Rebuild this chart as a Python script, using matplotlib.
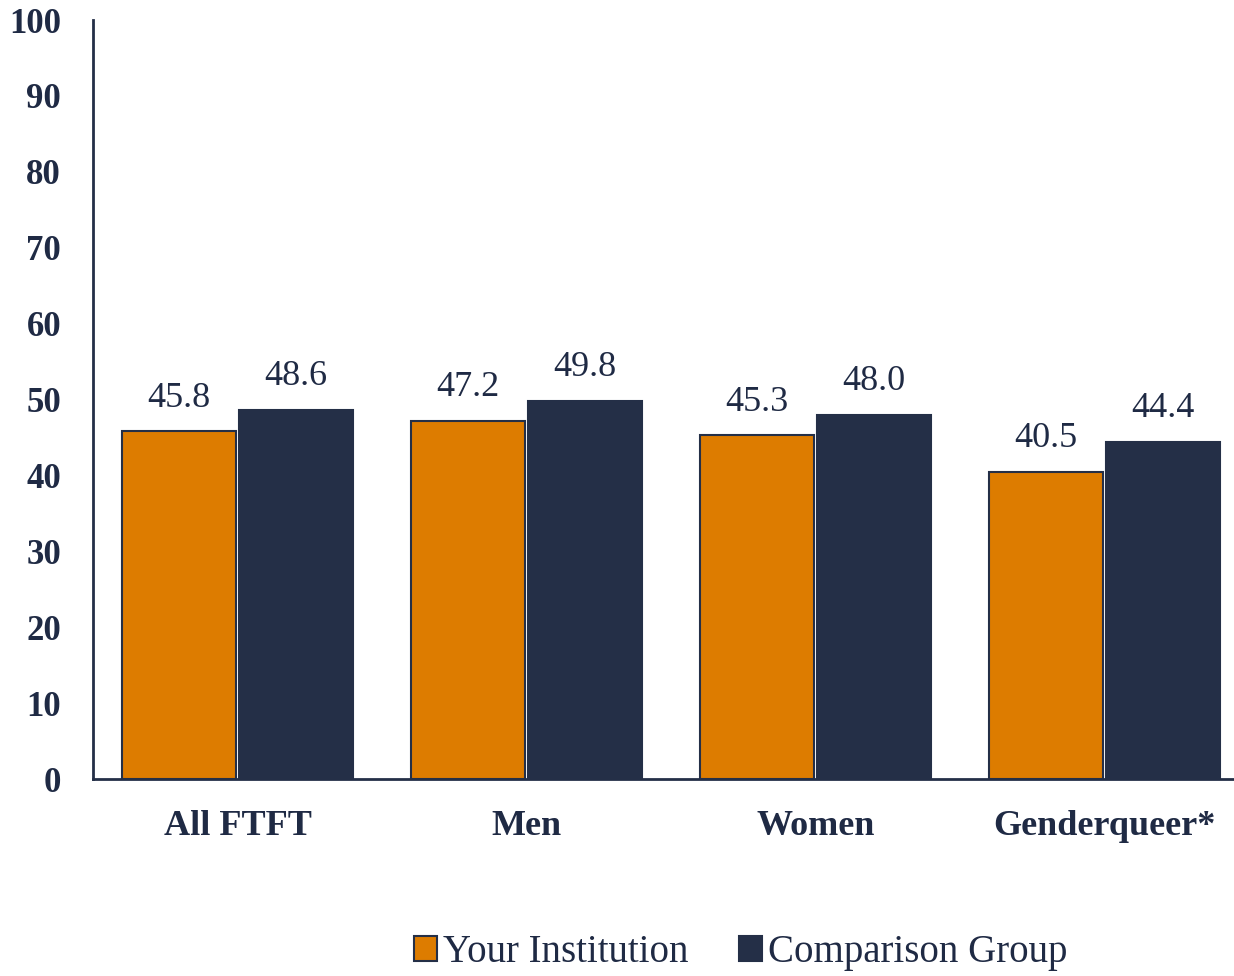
import matplotlib
matplotlib.use('Agg')
import matplotlib.pyplot as plt
import matplotlib.patches as patches
import numpy as np

categories = ['All FTFT', 'Men', 'Women', 'Genderqueer*']
your_inst = [45.8, 47.2, 45.3, 40.5]
comparison = [48.6, 49.8, 48.0, 44.4]
yticks = list(range(0, 101, 10))

orange = '#DD7C00'
navy = '#242F47'
textc = '#1F2A44'

plt.rcParams['font.family'] = ['Liberation Serif', 'DejaVu Serif']

fig = plt.figure(figsize=(12.34, 9.76), dpi=100)
# axes runs a little past the right edge of the figure, like the original
ax = fig.add_axes([0.0754, 0.2018, 0.9368, 0.7777])
ax.spines['bottom'].set_clip_on(False)

x = np.arange(len(categories))
w = 0.393
b1 = ax.bar(x - 0.203, your_inst, w, color=orange, edgecolor=navy, linewidth=1.5)
b2 = ax.bar(x + 0.203, comparison, w, color=navy, edgecolor=navy, linewidth=1.5)

for bars, vals in [(b1, your_inst), (b2, comparison)]:
    for r, v in zip(bars, vals):
        ax.text(r.get_x() + r.get_width() / 2, v + 2.2, '%.1f' % v, ha='center', va='bottom',
                fontsize=26, color=textc)

ax.set_xlim(-0.5, len(categories) - 0.5)
ax.set_ylim(0, 100)
ax.set_yticks(yticks)
ax.set_yticklabels([str(t) for t in yticks], fontsize=25, fontweight='bold', color=textc)
ax.set_xticks(x)
ax.set_xticklabels(categories, fontsize=26, fontweight='bold', color=textc)
ax.tick_params(axis='both', length=0)
ax.tick_params(axis='y', pad=23)
ax.tick_params(axis='x', pad=22)
for s in ['top', 'right']:
    ax.spines[s].set_visible(False)
for s in ['left', 'bottom']:
    ax.spines[s].set_color(navy)
    ax.spines[s].set_linewidth(2)

handles = [patches.Patch(facecolor=orange, edgecolor=navy, linewidth=1.5),
           patches.Patch(facecolor=navy, edgecolor=navy, linewidth=1.5)]
fig.legend(handles, ['Your Institution', 'Comparison Group'], loc='lower center',
           bbox_to_anchor=(0.6, -0.031), ncol=2, frameon=False, fontsize=28,
           labelcolor=textc, handlelength=0.6, handleheight=0.6, handletextpad=0.15,
           columnspacing=1.3)

fig.savefig('out.png', dpi=100)
